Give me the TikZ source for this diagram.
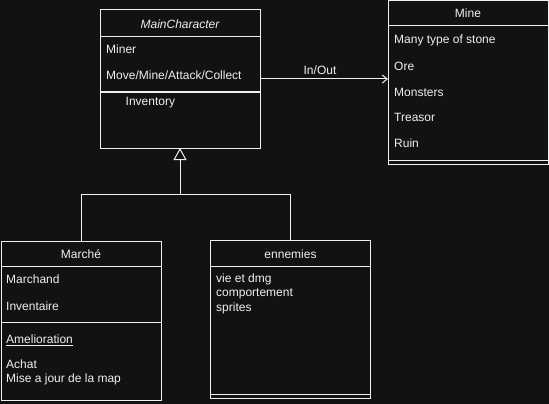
\documentclass[tikz,border=0pt]{standalone}
\usepackage{fontspec}
\setmainfont{Liberation Sans}
\usetikzlibrary{arrows.meta,calc}
\definecolor{bg}{HTML}{121212}
\definecolor{fg}{HTML}{F0F0F0}
\begin{document}
\begin{tikzpicture}[x=1pt, y=-1pt,
    every node/.style={text=fg, font=\fontsize{12}{14.4}\selectfont},
    classbox/.style={draw=fg, line width=1pt, anchor=north west, inner sep=0pt, outer sep=0pt,
        minimum width=160pt},
    attr/.style={anchor=west, inner sep=0pt, align=left},
    line/.style={draw=fg, line width=1pt}]
    % Background
    \fill [bg] (0,0) rectangle (549,404);
    % Boxes
    \node [classbox, minimum height=138pt] (main) at (100,10) {};
    \node [classbox, minimum height=163pt] (mine) at (388,1) {};
    \node [classbox, minimum height=159pt] (marche) at (1,241) {};
    \node [classbox, minimum height=157.5pt] (enn) at (210.5,240.5) {};
    % Separators
    \draw [line]
        ($(main.north west)+(0,26.5)$) -- ($(main.north east)+(0,26.5)$)
        ($(main.north west)+(0,82)$) -- ($(main.north east)+(0,82)$)
        ($(mine.north west)+(0,25)$) -- ($(mine.north east)+(0,25)$)
        ($(mine.south west)+(0,-3.5)$) -- ($(mine.south east)+(0,-3.5)$)
        ($(marche.north west)+(0,25)$) -- ($(marche.north east)+(0,25)$)
        ($(marche.north west)+(0,81)$) -- ($(marche.north east)+(0,81)$)
        ($(enn.north west)+(0,25.5)$) -- ($(enn.north east)+(0,25.5)$)
        ($(enn.south west)+(0,-3.5)$) -- ($(enn.south east)+(0,-3.5)$)
        ;
    % Titles
    \node (maintitle) at (180,24) {\itshape MainCharacter};
    \node (minetitle) at (468,13.5) {Mine};
    \node (marchetitle) at (81,254) {Marché};
    \node (enntitle) at (290.5,254) {ennemies};
    % Attributes
    \node [attr] (miner) at (106,49) {Miner};
    \node [attr] (actions) at (106,75.5) {Move/Mine/Attack/Collect};
    \node [attr] (inventory) at (125.5,102.5) {Inventory};
    \node [attr] (stone) at (394,40) {Many type of stone};
    \node [attr] (ore) at (394,66) {Ore};
    \node [attr] (monsters) at (394,92) {Monsters};
    \node [attr] (treasor) at (394,117.5) {Treasor};
    \node [attr] (ruin) at (394,143.5) {Ruin};
    \node [attr] (marchand) at (6,279.5) {Marchand};
    \node [attr] (inventaire) at (6,306) {Inventaire};
    \node [attr] (amelio) at (6,340) {\underline{Amelioration}};
    \node [attr] (achat) at (6,372.5) {Achat\\Mise a jour de la map};
    \node [attr] (ennattr) at (216,293.5) {vie et dmg\\comportement\\sprites};
    % Association
    \draw [line, -{Straight Barb[length=5pt, width=8pt]}]
        (main.east) -- (main.east -| mine.west)
        node [midway, above=0.5pt, xshift=-4pt] (inout) {In/Out};
    % Inheritance
    \coordinate (split) at (180,194.5);
    \draw [line] (marche.north) |- (split) -| (enn.north);
    \draw [line, -{Triangle[open, length=12pt, width=13pt]}] (split) -- (main.south);
\end{tikzpicture}
\end{document}
